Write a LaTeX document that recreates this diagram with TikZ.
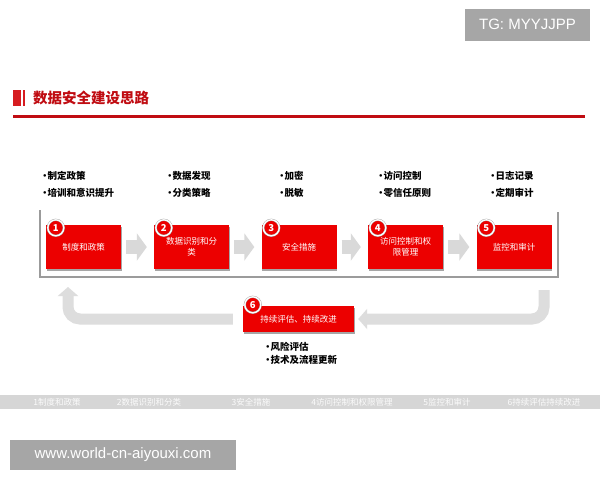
\documentclass[tikz,border=0pt]{standalone}
\usepackage{fontspec}
\setmainfont{Noto Sans CJK SC}
\newfontfamily\latinfont{Liberation Sans}
\usetikzlibrary{arrows.meta,shadows}

\definecolor{boxred}{RGB}{236,0,0}
\definecolor{titlered}{RGB}{192,12,18}
\definecolor{barred}{RGB}{214,28,32}
\definecolor{arrowgray}{RGB}{217,217,217}
\definecolor{loopgray}{RGB}{221,221,221}
\definecolor{framegray}{RGB}{155,155,155}
\definecolor{stripgray}{RGB}{214,214,214}
\definecolor{stampgray}{RGB}{166,166,166}

\newcommand{\bul}{·\kern-2.2pt}

\begin{document}
\begin{tikzpicture}[
		x=1pt, y=-1pt,
		stepbox/.style={rectangle, fill=boxred, text=white, minimum width=75pt, minimum height=44pt,
			inner sep=2pt, align=center, font=\fontsize{8.5}{11}\selectfont,
			drop shadow={shadow xshift=0.8pt, shadow yshift=-1.5pt, fill=black, opacity=0.35}},
		numdot/.style={circle, fill=boxred, draw=black!35, double=white, double distance=1.3pt,
			line width=0.4pt, minimum size=16pt, inner sep=0pt, text=white,
			font=\bfseries\fontsize{9.5}{10}\selectfont},
		notes/.style={anchor=west, align=left, inner sep=0pt, font=\bfseries\fontsize{9.5}{17}\selectfont},
		stepgap/.style={draw=arrowgray, line width=14pt, -{Triangle[length=10pt, width=27pt]},
			shorten <=5pt, shorten >=7pt},
		loopband/.style={draw=loopgray, line width=11pt, -{Triangle[length=9pt, width=20pt]},
			rounded corners=12pt},
		footlabel/.style={text=white!90!stripgray, inner sep=0pt, font=\fontsize{8.5}{9}\selectfont},
		stamp/.style={fill=stampgray, text=white, inner sep=0pt, font=\latinfont\fontsize{15}{15}\selectfont}
	]
  \useasboundingbox (0,0) rectangle (600,480);
  \fill[white] (0,0) rectangle (600,480);

  \node (tg) [stamp, minimum width=125pt, minimum height=32pt] at (527.5, 24.5) {TG: MYYJJPP};

  \fill[barred] (13,90) rectangle (21,106);
  \fill[barred] (23,90) rectangle (25,106);
  \node (title) [anchor=west, inner sep=0pt, text=titlered, font=\bfseries\fontsize{14.5}{15}\selectfont] at (33, 98) {数据安全建设思路};
  \draw[titlered, line width=3pt] (13,116) -- (585,116);

  \node (n1) [notes] at (40, 184.5) {\bul 制定政策\\\bul 培训和意识提升};
  \node (n2) [notes] at (165, 184.5) {\bul 数据发现\\\bul 分类策略};
  \node (n3) [notes] at (277, 184.5) {\bul 加密\\\bul 脱敏};
  \node (n4) [notes] at (376, 184.5) {\bul 访问控制\\\bul 零信任原则};
  \node (n5) [notes] at (488, 184.5) {\bul 日志记录\\\bul 定期审计};

  \draw[framegray, line width=1.2pt] (40,210) -- (40,277) -- (558,277) -- (558,212);

  \node (b1) [stepbox] at (83.5, 247) {制度和政策};
  \node (b2) [stepbox] at (191.5, 247) {数据识别和分\\类};
  \node (b3) [stepbox] at (299, 247) {安全措施};
  \node (b4) [stepbox] at (405.5, 247) {访问控制和权\\限管理};
  \node (b5) [stepbox] at (514, 247) {监控和审计};
  \node (b6) [stepbox, minimum width=111pt, minimum height=26pt] at (298.5, 319) {持续评估、持续改进};

  \node (c1) [numdot] at ([shift={(10,3)}]b1.north west) {1};
  \node (c2) [numdot] at ([shift={(10,3)}]b2.north west) {2};
  \node (c3) [numdot] at ([shift={(10,3)}]b3.north west) {3};
  \node (c4) [numdot] at ([shift={(10,3)}]b4.north west) {4};
  \node (c5) [numdot] at ([shift={(10,3)}]b5.north west) {5};
  \node (c6) [numdot] at ([shift={(10,-1)}]b6.north west) {6};

  \draw[stepgap] (b1) -- (b2);
  \draw[stepgap] (b2) -- (b3);
  \draw[stepgap] (b3) -- (b4);
  \draw[stepgap] (b4) -- (b5);

  \coordinate (rin) at (544, 290);
  \coordinate (lout) at (68, 287);
  \draw[loopband, shorten >=4pt] (rin) |- (b6.east);
  \draw[loopband, shorten <=10pt] (b6.west) -| (lout);

  \node (n6) [notes, font=\bfseries\fontsize{9.5}{13}\selectfont] at (263, 353.5) {\bul 风险评估\\\bul 技术及流程更新};

  \fill[stripgray] (0,395) rectangle (600,409);
  \node (f1) [footlabel] at (57, 402) {1制度和政策};
  \node (f2) [footlabel] at (149, 402) {2数据识别和分类};
  \node (f3) [footlabel] at (251, 402) {3安全措施};
  \node (f4) [footlabel] at (352, 402) {4访问控制和权限管理};
  \node (f5) [footlabel] at (447, 402) {5监控和审计};
  \node (f6) [footlabel] at (544, 402) {6持续评估持续改进};

  \node (url) [stamp, minimum width=226pt, minimum height=30pt] at (123, 455) {www.world-cn-aiyouxi.com};
\end{tikzpicture}
\end{document}
